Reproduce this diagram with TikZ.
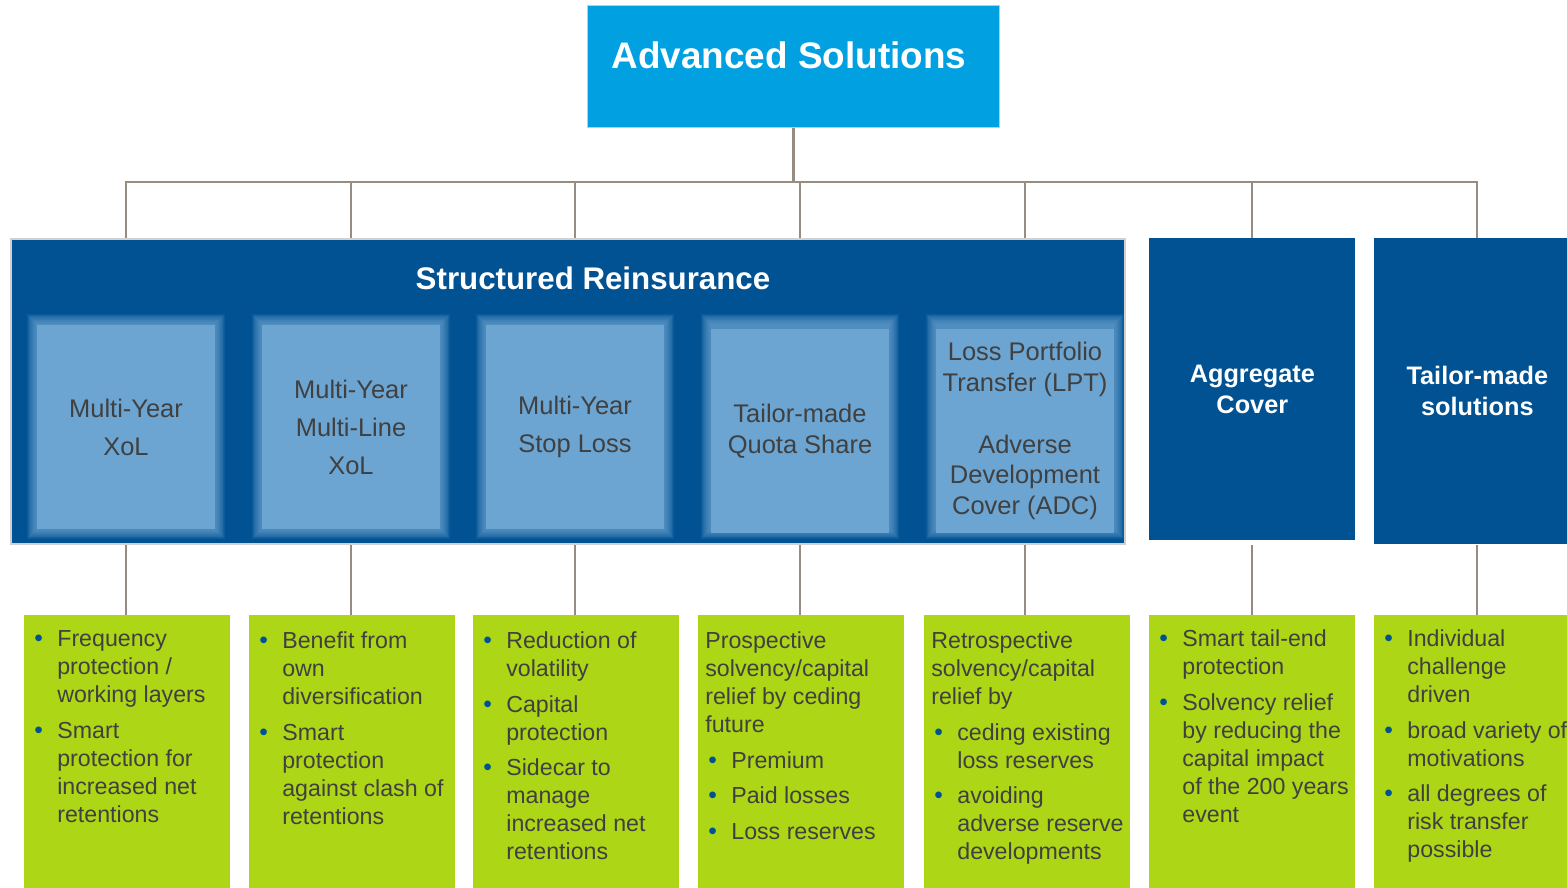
\documentclass[tikz,border=0pt]{standalone}
\usepackage{fontspec}
\setmainfont{Liberation Sans}
\usetikzlibrary{positioning}

\definecolor{advcyan}{RGB}{0,160,225}
\definecolor{srblue}{RGB}{0,82,147}
\definecolor{prodblue}{RGB}{108,165,210}
\definecolor{leafgreen}{RGB}{173,214,22}
\definecolor{inkgray}{RGB}{64,64,64}
\definecolor{linegray}{RGB}{150,140,130}

% text of the green boxes: plain lead-in and bullet points
\newcommand{\leafsize}{\fontsize{13.2}{15.9}\selectfont\setlength{\parskip}{0.15cm}}
\newcommand{\leadin}{\par\noindent\strut}
\newcommand{\bul}{\par\hangindent=0.52cm\hangafter=0\noindent\hspace*{-0.46cm}%
  \makebox[0.46cm][l]{\fontsize{14}{14}\selectfont\textcolor{srblue}{\textbullet}}\strut}
\newcommand{\leaf}[1]{\begin{minipage}[t]{4.3cm}\leafsize #1\end{minipage}}

\begin{document}
\begin{tikzpicture}[x=0.02cm, y=-0.02cm,
  box/.style={rectangle, inner sep=0pt, anchor=north west},
  topbox/.style={box, fill=advcyan, draw=advcyan!40, line width=0.6pt, minimum width=8.24cm, minimum height=2.44cm},
  groupbox/.style={box, fill=srblue, draw=black!18, line width=1.2pt, minimum width=22.28cm, minimum height=6.1cm},
  prodbox/.style={rectangle, inner sep=0pt, fill=prodblue, minimum width=3.56cm, minimum height=4.1cm,
    text=inkgray, align=center, font=\fontsize{14.5}{17.6}\selectfont},
  loose/.style={font=\fontsize{14.5}{21.6}\selectfont},
  solbox/.style={box, fill=srblue, minimum width=4.12cm, text=white, align=center,
    font=\bfseries\fontsize{14.4}{17.6}\selectfont},
  leafbox/.style={box, fill=leafgreen, minimum width=4.12cm, minimum height=5.6cm},
  leaftext/.style={box, text=inkgray},
  tree/.style={draw=linegray, line width=1.1pt}]
  \useasboundingbox (0,0) rectangle (1567,888);
  \clip (0,0) rectangle (1567,888);

  % root
  \node[topbox] (adv) at (587,5) {};
  \node[text=white, font=\bfseries\fontsize{21}{25}\selectfont] (advtitle) at (789,55) {Advanced Solutions};

  % structured reinsurance group with its five products
  \node[groupbox] (sr) at (10,238) {};
  \node[text=white, font=\bfseries\fontsize{17.8}{21}\selectfont] (srtitle) at (593,278) {Structured Reinsurance};
  % soft edges of the product boxes
  \foreach \px in {33,258,482,707,932}
    \foreach \k in {0,...,13}
      \fill[prodblue, opacity=0.1] (\px+\k*0.8-6, 320+\k*0.8-6) rectangle (\px+186-\k*0.8+6, 533-\k*0.8+6);
  \node[prodbox, loose] (xol) at (126,427) {Multi-Year\\XoL};
  \node[prodbox, loose] (mlxol) at (351,427) {Multi-Year\\Multi-Line\\XoL};
  \node[prodbox, loose] (msl) at (575,427) {Multi-Year\\Stop Loss};
  \node[prodbox] (tmqs) at (800,431) {Tailor-made\\Quota Share};
  \node[prodbox] (lpt) at (1025,431) {Loss Portfolio\\Transfer (LPT)\\[17.6pt]Adverse\\Development\\Cover (ADC)};

  % the two stand-alone solutions
  \node[solbox, minimum height=6.04cm] (agg) at (1149,238) {Aggregate\\Cover};
  \node[solbox, minimum height=6.12cm] (tms) at (1374,238) {Tailor-made\\solutions};

  % green description boxes
  \foreach \gx [count=\i] in {24,249,473,698,924,1149,1374}
    \node[leafbox] (g\i) at (\gx,615) {};

  \node[leaftext] (t1) at (31,627) {\leaf{%
    \bul Frequency\\protection /\\working layers
    \bul Smart\\protection for\\increased net\\retentions}};
  \node[leaftext] (t2) at (256,629) {\leaf{%
    \bul Benefit from\\own\\diversification
    \bul Smart\\protection\\against clash of\\retentions}};
  \node[leaftext] (t3) at (480,629) {\leaf{%
    \bul Reduction of\\volatility
    \bul Capital\\protection
    \bul Sidecar to\\manage\\increased net\\retentions}};
  \node[leaftext] (t4) at (705,629) {\leaf{%
    \leadin Prospective\\solvency/capital\\relief by ceding\\future
    \bul Premium
    \bul Paid losses
    \bul Loss reserves}};
  \node[leaftext] (t5) at (931,629) {\leaf{%
    \leadin Retrospective\\solvency/capital\\relief by
    \bul ceding existing\\loss reserves
    \bul avoiding\\adverse reserve\\developments}};
  \node[leaftext] (t6) at (1156,627) {\leaf{%
    \bul Smart tail-end\\protection
    \bul Solvency relief\\by reducing the\\capital impact\\of the 200 years\\event}};
  \node[leaftext] (t7) at (1381,627) {\leaf{%
    \bul Individual\\challenge\\driven
    \bul broad variety of\\motivations
    \bul all degrees of\\risk transfer\\possible}};

  % connectors
  \path (adv.south) ++(0,54) coordinate (hub);
  \draw[tree, line width=2.2pt] (adv) -- (hub);
  \foreach \n in {xol,mlxol,msl,tmqs,lpt}
    \draw[tree] (hub) -| (sr.north -| \n);
  \foreach \n in {agg,tms}
    \draw[tree] (hub) -| (\n);
  \foreach \n/\g in {xol/g1,mlxol/g2,msl/g3,tmqs/g4,lpt/g5,agg/g6,tms/g7}
    \draw[tree] (\n.south |- sr.south) -- (\g.north -| \n.south);
\end{tikzpicture}
\end{document}
